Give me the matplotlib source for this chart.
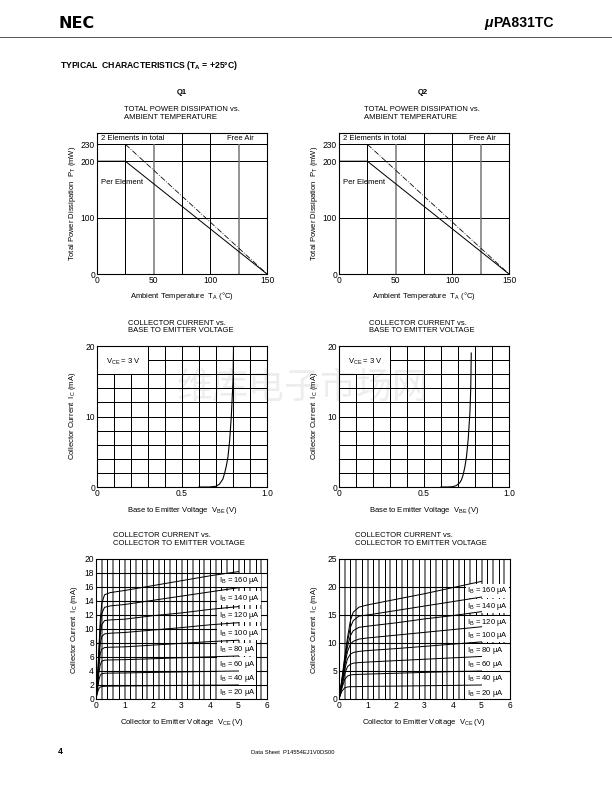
import matplotlib
matplotlib.use('Agg')
import matplotlib.pyplot as plt
import numpy as np

plt.rcParams['font.family'] = ['Liberation Sans', 'DejaVu Sans']
plt.rcParams['mathtext.fontset'] = 'custom'
plt.rcParams['mathtext.rm'] = 'Liberation Sans'
plt.rcParams['mathtext.it'] = 'Liberation Sans:italic'

# power dissipation vs ambient temperature
ta = [0, 25, 150]
pt_element = [200, 200, 0]
pt_total = [230, 230, 0]

# collector current vs base-emitter voltage (Vce = 3 V)
q1_vbe = [0.60, 0.66, 0.70, 0.72, 0.74, 0.75, 0.76, 0.77, 0.78, 0.79, 0.80, 0.803]
q1_ic_vbe = [0, 0, 0.1, 0.4, 1.1, 1.9, 2.9, 4.2, 6.5, 10, 15, 20]
q2_vbe = [0.60, 0.64, 0.67, 0.69, 0.71, 0.72, 0.73, 0.74, 0.75, 0.76, 0.77, 0.775, 0.778]
q2_ic_vbe = [0, 0, 0.05, 0.2, 0.6, 1.0, 1.7, 2.8, 4.3, 6.8, 10.5, 14, 19]

# collector current vs collector-emitter voltage
ib_values = [20, 40, 60, 80, 100, 120, 140, 160]
q1_vce = [0, 0.05, 0.1, 0.15, 0.2, 0.3, 0.5, 1, 2, 3, 4, 5]
q1_ic = [
    [0, 0.9, 1.5, 1.7, 1.78, 1.82, 1.84, 1.86, 1.9, 1.94, 1.97, 2.0],
    [0, 1.2, 2.7, 3.4, 3.6, 3.68, 3.7, 3.72, 3.8, 3.87, 3.94, 4.0],
    [0, 1.5, 3.7, 4.9, 5.4, 5.55, 5.58, 5.62, 5.75, 5.9, 6.02, 6.15],
    [0, 1.8, 4.5, 6.5, 7.1, 7.35, 7.4, 7.45, 7.7, 7.95, 8.2, 8.4],
    [0, 2.0, 5.2, 7.9, 8.9, 9.3, 9.4, 9.5, 9.85, 10.2, 10.6, 10.9],
    [0, 2.2, 5.9, 9.2, 10.6, 11.2, 11.3, 11.4, 11.9, 12.3, 12.8, 13.2],
    [0, 2.4, 6.5, 10.3, 12.2, 13.1, 13.3, 13.5, 14.1, 14.7, 15.3, 15.9],
    [0, 2.6, 7.1, 11.3, 13.6, 14.9, 15.2, 15.5, 16.2, 16.9, 17.6, 18.2],
]
q1_label_y = [0.95, 3.0, 5.0, 7.1, 9.4, 11.9, 14.4, 16.9]

q2_vce = [0, 0.1, 0.2, 0.3, 0.4, 0.5, 0.7, 1, 2, 3, 4, 5]
q2_ic = [
    [0, 1.4, 2.0, 2.15, 2.2, 2.2, 2.22, 2.25, 2.3, 2.37, 2.43, 2.5],
    [0, 1.9, 3.5, 4.1, 4.3, 4.35, 4.4, 4.45, 4.6, 4.75, 4.9, 5.0],
    [0, 2.2, 4.5, 5.8, 6.2, 6.4, 6.5, 6.6, 6.85, 7.1, 7.35, 7.6],
    [0, 2.5, 5.3, 7.2, 8.0, 8.3, 8.5, 8.65, 9.0, 9.4, 9.8, 10.2],
    [0, 2.8, 6.0, 8.5, 9.8, 10.3, 10.7, 10.9, 11.4, 11.9, 12.4, 12.9],
    [0, 3.0, 6.5, 9.4, 11.3, 12.2, 12.8, 13.0, 13.6, 14.3, 14.9, 15.6],
    [0, 3.3, 7.0, 10.3, 12.8, 14.0, 14.8, 15.0, 15.8, 16.6, 17.4, 18.2],
    [0, 3.5, 7.5, 11.0, 14.0, 15.5, 16.4, 16.8, 17.8, 18.8, 19.9, 21.0],
]
q2_label_y = [1.07, 3.6, 6.2, 8.6, 11.3, 13.7, 16.6, 19.3]

W, H = 612, 792
fig = plt.figure(figsize=(8.5, 11), dpi=72)

TICK = 8.5
LAB = 7.6


def px_axes(l, t, r, b):
    return fig.add_axes([l / W, 1 - b / H, (r - l) / W, (b - t) / H])


def ftext(x, y, s, **kw):
    return fig.text(x / W, 1 - y / H, s, **kw)


def style(ax):
    for sp in ax.spines.values():
        sp.set_linewidth(1.1)
        sp.set_zorder(5)
    ax.tick_params(length=0, labelsize=TICK, pad=2)


def power_chart(left):
    ax = px_axes(left, 133, left + 170, 274)
    ax.set_xlim(0, 150)
    ax.set_ylim(0, 250)
    ax.set_xticks([0, 50, 100, 150])
    ax.set_yticks([0, 100, 200, 230])
    style(ax)
    ax.hlines([100, 200, 230], 0, 150, color='k', lw=1.0)
    ax.vlines([25], 0, 230, color='k', lw=1.0)
    ax.vlines([50, 125], 0, 230, color='0.45', lw=1.5)
    ax.vlines([75, 100], 0, 250, color='k', lw=1.0)
    ax.plot(ta, pt_element, color='k', lw=1.0)
    ax.plot(ta[1:], pt_total[1:], color='k', lw=0.8, dashes=(7, 2, 1, 2))
    ax.text(3.3, 241, '2 Elements in total', fontsize=LAB, va='center')
    ax.text(138, 241, 'Free Air', fontsize=LAB, va='center', ha='right')
    ax.text(3.3, 163, 'Per Element', fontsize=LAB, va='center')
    return ax


def vbe_chart(left, top, vbe, ic):
    ax = px_axes(left, top, left + 170, 487)
    ax.set_xlim(0, 1)
    ax.set_ylim(0, 20)
    ax.set_xticks([0, 0.5, 1.0])
    ax.set_xticklabels(['0', '0.5', '1.0'])
    ax.set_yticks([0, 10, 20])
    style(ax)
    ax.vlines([0.1, 0.2], 0, 16, color='k', lw=1.0)
    ax.vlines(np.arange(0.3, 0.95, 0.1), 0, 20, color='k', lw=1.0)
    ax.hlines(np.arange(2, 17, 2), 0, 1, color='k', lw=1.0)
    ax.hlines([18], 0.3, 1, color='k', lw=1.0)
    ax.plot(vbe, ic, color='k', lw=1.1)
    ax.text(0.05, 17.8, r'V$_\mathregular{CE}$ = 3 V', fontsize=LAB, va='center')
    return ax


def vce_chart(left, vce, curves, label_y, ymax, ystep, label_x):
    ax = px_axes(left, 559, left + 171, 699)
    ax.set_xlim(0, 6)
    ax.set_ylim(0, ymax)
    ax.set_xticks(range(0, 7))
    ax.set_yticks(np.arange(0, ymax + 1, ystep))
    style(ax)
    xs = np.arange(0.2, 5.9, 0.2)
    for i, x in enumerate(xs):
        if i % 2 == 0:
            ax.axvline(x, color='0.35', lw=1.5, zorder=1)
        else:
            ax.axvline(x, color='k', lw=1.0, zorder=1)
    for y in np.arange(ystep, ymax, ystep):
        ax.axhline(y, color='k', lw=1.1, zorder=1)
    for ib, ic, ly in zip(ib_values, curves, label_y):
        ax.plot(vce, ic, color='k', lw=1.0, zorder=4)
        ax.text(label_x, ly, r'I$_\mathregular{B}$ = %d μA' % ib, fontsize=LAB,
                va='center', ha='left', zorder=3,
                bbox=dict(facecolor='white', edgecolor='none', pad=1.2))
    return ax


# header
ftext(58, 23, 'NEC', fontsize=16, fontweight='bold', va='center', family='DejaVu Sans')
ftext(554, 23, 'PA831TC', fontsize=14, fontweight='bold', va='center', ha='right')
ftext(493, 23, 'μ', fontsize=14, fontweight='bold', style='italic', va='center', ha='right')
fig.add_artist(plt.Line2D([0, 1], [1 - 37 / H, 1 - 37 / H], color='0.35', lw=1.0))
ftext(60, 66, r'TYPICAL  CHARACTERISTICS (T$_\mathregular{A}$ = +25°C)', fontsize=8.6,
      fontweight='bold', va='center')
ftext(182, 92, 'Q1', fontsize=LAB, fontweight='bold', ha='center', va='center')
ftext(423, 92, 'Q2', fontsize=LAB, fontweight='bold', ha='center', va='center')

for left, tx, lx, cx in [(97, 124, 72.5, 182), (339, 364, 315, 424)]:
    power_chart(left)
    ftext(tx, 113.5, 'TOTAL POWER DISSIPATION vs.\nAMBIENT TEMPERATURE', fontsize=LAB,
          va='center', linespacing=1.05)
    ftext(lx, 203, r'Total Power Dissipation  P$_\mathregular{T}$ (mW)', fontsize=LAB,
          rotation=90, ha='center', va='center')
    ftext(cx, 296, r'Ambient Temperature  T$_\mathregular{A}$ (°C)', fontsize=LAB,
          ha='center', va='center')

vbe_chart(97, 346, q1_vbe, q1_ic_vbe)
vbe_chart(339, 346, q2_vbe, q2_ic_vbe)
for tx, lx, cx in [(128, 72.5, 182), (369, 314, 424)]:
    ftext(tx, 327, 'COLLECTOR CURRENT vs.\nBASE TO EMITTER VOLTAGE', fontsize=LAB,
          va='center', linespacing=1.05)
    ftext(lx, 416, r'Collector Current  I$_\mathregular{C}$ (mA)', fontsize=LAB,
          rotation=90, ha='center', va='center')
    ftext(cx, 510, r'Base to Emitter Voltage  V$_\mathregular{BE}$ (V)', fontsize=LAB,
          ha='center', va='center')

vce_chart(96, q1_vce, q1_ic, q1_label_y, 20, 2, 4.3)
vce_chart(339, q2_vce, q2_ic, q2_label_y, 25, 5, 4.5)
for tx, lx, cx in [(113, 75, 182), (355, 315, 424)]:
    ftext(tx, 539.5, 'COLLECTOR CURRENT vs.\nCOLLECTOR TO EMITTER VOLTAGE', fontsize=LAB,
          va='center', linespacing=1.05)
    ftext(lx, 630, r'Collector Current  I$_\mathregular{C}$ (mA)', fontsize=LAB,
          rotation=90, ha='center', va='center')
    ftext(cx, 722, r'Collector to Emitter Voltage  V$_\mathregular{CE}$ (V)', fontsize=LAB,
          ha='center', va='center')

# faint watermark across the middle row
ftext(303, 388, '维库电子市场网', fontsize=36, color='k', alpha=0.07, ha='center',
      va='center', family=['Noto Sans CJK SC', 'DejaVu Sans'], zorder=10)

# footer
ftext(58, 751, '4', fontsize=8.5, fontweight='bold', va='center')
ftext(293, 753, 'Data Sheet  P14554EJ1V0DS00', fontsize=5.8, ha='center', va='center')

fig.savefig('out.png', dpi=72, facecolor='white')
